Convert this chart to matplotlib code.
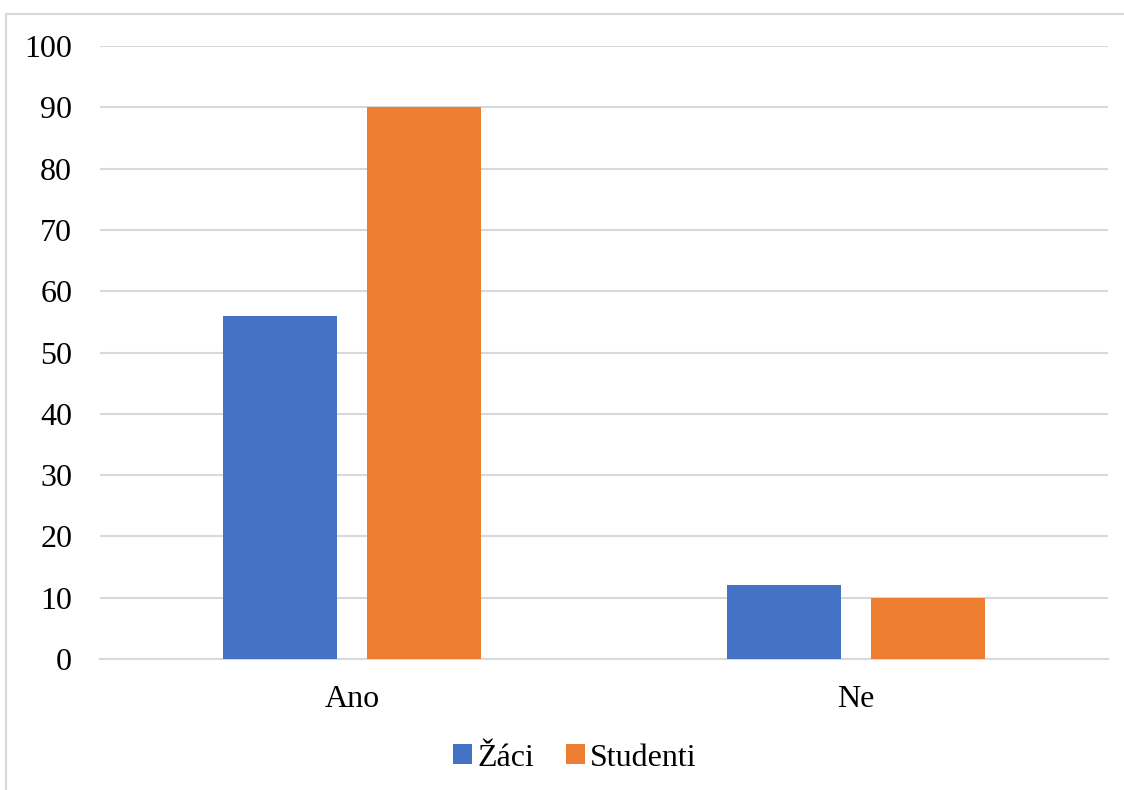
import numpy as np
import matplotlib
matplotlib.use("Agg")
import matplotlib.pyplot as plt
from matplotlib.patches import Rectangle

categories = ["Ano", "Ne"]
zaci = [56, 12]
studenti = [90, 10]
series_names = ["Žáci", "Studenti"]
yticks = [0, 10, 20, 30, 40, 50, 60, 70, 80, 90, 100]

plt.rcParams["font.family"] = ["Liberation Serif", "DejaVu Serif"]

W, H = 1124, 790
fig = plt.figure(figsize=(W / 100, H / 100), dpi=100)
ax = fig.add_axes([100 / W, 1 - 659 / H, 1008 / W, 613 / H])

x = np.arange(len(categories))
bw = 0.226
off = 0.143
ax.bar(x - off, zaci, bw, color="#4472C4", label=series_names[0], zorder=3)
ax.bar(x + off, studenti, bw, color="#ED7D31", label=series_names[1], zorder=3)

ax.set_xlim(-0.5, len(categories) - 0.5)
ax.set_ylim(0, 100)
ax.set_yticks(yticks)
ax.set_xticks(x, categories)
ax.yaxis.grid(True, color="#D9D9D9", linewidth=1.5, zorder=0)
for s in ["top", "right", "left"]:
    ax.spines[s].set_visible(False)
ax.spines["bottom"].set_color("#D9D9D9")
ax.spines["bottom"].set_linewidth(1.5)
ax.tick_params(axis="both", length=0, labelsize=23, colors="black")
ax.tick_params(axis="y", pad=20)
ax.tick_params(axis="x", pad=19)

ax.legend(loc="center", bbox_to_anchor=(575 / W, 1 - 758 / H),
          bbox_transform=fig.transFigure, ncol=2, frameon=False,
          fontsize=23, handlelength=0.6, handleheight=0.6,
          handletextpad=0.15, columnspacing=1.0)

# chart-area border (clipped at right/bottom as in the reference)
fig.patches.append(Rectangle((6.5 / W, -0.1), 1.2, 1 - 14 / H + 0.1,
                             transform=fig.transFigure, fill=False,
                             edgecolor="#D9D9D9", linewidth=1.5))

fig.savefig("out.png", dpi=100)
